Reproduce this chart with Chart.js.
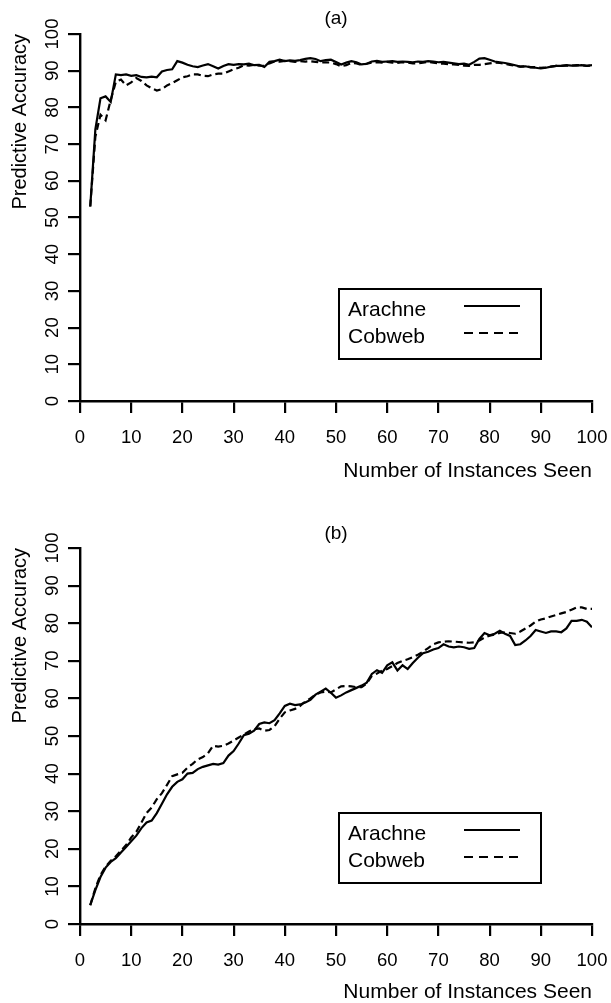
<!DOCTYPE html>
<html>
<head>
<meta charset="utf-8">
<title>Predictive Accuracy</title>
<script src="https://cdn.jsdelivr.net/npm/chart.js@4.4.1/dist/chart.umd.min.js"></script>
<style>
  html, body { margin: 0; padding: 0; background: #fff; }
  body { width: 611px; height: 1003px; position: relative; overflow: hidden; }
  .panel { position: absolute; left: 0; width: 611px; }
  #panelA { top: 0; height: 486px; }
  #panelB { top: 500px; height: 503px; }
</style>
</head>
<body>
<div class="panel" id="panelA"><canvas id="chartA"></canvas></div>
<div class="panel" id="panelB"><canvas id="chartB"></canvas></div>
<script>
// number of instances seen (x)
const instances = [
  2, 3, 4, 5, 6, 7, 8, 9, 10, 11,
  12, 13, 14, 15, 16, 17, 18, 19, 20, 21,
  22, 23, 24, 25, 26, 27, 28, 29, 30, 31,
  32, 33, 34, 35, 36, 37, 38, 39, 40, 41,
  42, 43, 44, 45, 46, 47, 48, 49, 50, 51,
  52, 53, 54, 55, 56, 57, 58, 59, 60, 61,
  62, 63, 64, 65, 66, 67, 68, 69, 70, 71,
  72, 73, 74, 75, 76, 77, 78, 79, 80, 81,
  82, 83, 84, 85, 86, 87, 88, 89, 90, 91,
  92, 93, 94, 95, 96, 97, 98, 99, 100
];

// panel (a)
const arachneA = [
  53, 74, 82.5, 83, 81.5, 89, 88.8, 89, 88.6, 88.8,
  88.3, 88.2, 88.4, 88.2, 89.8, 90.2, 90.4, 92.6, 92.2, 91.6,
  91.2, 91, 91.4, 91.8, 91.2, 90.6, 91.3, 91.8, 91.6, 91.8,
  91.7, 91.9, 91.5, 91.6, 91, 92.4, 92.6, 93, 92.6, 92.8,
  92.7, 92.9, 93.2, 93.4, 93.2, 92.6, 92.9, 93, 92.4, 91.7,
  92.2, 92.6, 92.3, 91.7, 91.9, 92.5, 92.7, 92.4, 92.5, 92.6,
  92.4, 92.5, 92.4, 92.3, 92.5, 92.4, 92.6, 92.5, 92.3, 92.4,
  92.2, 92, 91.8, 91.9, 91.6, 92.4, 93.3, 93.4, 93, 92.5,
  92.3, 92.1, 91.8, 91.5, 91.1, 91.2, 90.9, 90.8, 90.6, 90.8,
  91.1, 91.3, 91.3, 91.5, 91.4, 91.4, 91.5, 91.3, 91.5
];
const cobwebA = [
  53, 72, 78, 76.5, 82, 87, 87.6, 86, 86.8, 88,
  87.2, 86, 85.2, 84.6, 85, 86, 86.6, 87.4, 88.2, 88.5,
  89, 89, 88.6, 88.5, 89, 89.2, 89.2, 89.8, 90.4, 90.8,
  91.5, 91.4, 91.6, 91.4, 91.3, 92, 92.5, 92.5, 92.7, 92.6,
  92.4, 92.6, 92.5, 92.6, 92.4, 92.2, 92.3, 92.2, 91.8, 91.2,
  91.5, 92.1, 92, 91.6, 91.9, 92.2, 92.3, 92.2, 92.4, 92.2,
  92.1, 92.3, 92.2, 92, 92, 92.2, 92.4, 92.2, 92, 91.9,
  91.8, 91.7, 91.6, 91.4, 91.3, 91.6, 91.6, 91.8, 92, 92.2,
  92.1, 91.9, 91.6, 91.3, 91.1, 91.2, 91, 91, 90.8, 90.9,
  91.1, 91.3, 91.3, 91.4, 91.4, 91.5, 91.5, 91.3, 91.4
];

// panel (b)
const arachneB = [
  5, 9, 12.5, 15, 16.5, 17.5, 19, 20.5, 22, 23.5,
  25.5, 27, 27.5, 29.5, 32, 34.5, 36.5, 37.8, 38.5, 40,
  40.2, 41.2, 41.8, 42.2, 42.6, 42.4, 42.8, 44.8, 46, 48,
  50.2, 50.6, 51.4, 53.2, 53.6, 53.4, 54.2, 56, 58, 58.6,
  58.2, 58.4, 58.9, 59.6, 61, 61.8, 62.6, 61.5, 60.2, 60.8,
  61.6, 62.2, 62.8, 63.4, 64.2, 66.5, 67.5, 66.8, 68.8, 69.6,
  67.4, 68.8, 67.8, 69.4, 70.8, 72, 72.4, 73, 73.4, 74.4,
  73.8, 73.6, 73.8, 73.6, 73.2, 73.4, 75.8, 77.4, 76.8, 77.2,
  78, 77.2, 76.6, 74.2, 74.4, 75.4, 76.6, 78.2, 77.8, 77.4,
  77.8, 77.8, 77.6, 78.6, 80.6, 80.6, 80.9, 80.4, 78.9
];
const cobwebB = [
  5, 9.5, 13, 15.3, 16.8, 18, 19.5, 21, 23, 24.5,
  27, 29.5, 31, 33.2, 34.8, 37, 39.3, 39.8, 40.2, 41.6,
  42.6, 43.8, 44.4, 45.4, 47.4, 47.2, 47.4, 48, 48.8, 49.6,
  50.4, 51.2, 51.8, 52, 51.4, 51.6, 52.6, 54.6, 56.3, 56.8,
  57.2, 58, 59.2, 60, 61, 61.6, 61.8, 61.6, 62.4, 63.2,
  63.3, 63.2, 63, 63, 64, 66, 66.6, 67.4, 67.8, 68.6,
  69.4, 70, 70.4, 71, 71.6, 72.4, 73.4, 74.4, 74.9, 75.1,
  75.2, 75.1, 75, 74.9, 74.8, 74.9, 75.4, 76.2, 76.7, 77,
  77.4, 77.6, 77.4, 77.2, 77.8, 78.6, 79.4, 80.4, 81, 81.3,
  81.8, 82.2, 82.6, 83, 83.6, 84.2, 84.2, 83.8, 83.8
];

const xTicks = [0, 10, 20, 30, 40, 50, 60, 70, 80, 90, 100];
const yTicks = [0, 10, 20, 30, 40, 50, 60, 70, 80, 90, 100];

Chart.defaults.font.family = '"Liberation Sans", Arial, Helvetica, sans-serif';
Chart.defaults.color = '#000';

// boxed key: name on the left, line sample on the right
const boxLegend = {
  id: 'boxLegend',
  afterDatasetsDraw(chart, args, opts) {
    const { ctx, chartArea } = chart;
    const left = chartArea.left + 259;
    const top = chartArea.bottom - opts.bottomGap - 70;
    ctx.save();
    ctx.strokeStyle = '#000';
    ctx.lineWidth = 2;
    ctx.strokeRect(left, top, 202, 70);
    ctx.font = '21px "Liberation Sans", Arial, sans-serif';
    ctx.fillStyle = '#000';
    ctx.textBaseline = 'middle';
    chart.data.datasets.forEach((ds, i) => {
      const y = top + 21 + i * 27;
      ctx.fillText(ds.label, left + 9, y);
      ctx.lineWidth = 2.2;
      ctx.setLineDash(i === 0 ? [] : [9, 6]);
      ctx.beginPath();
      ctx.moveTo(left + 125, y - 4);
      ctx.lineTo(left + 181, y - 4);
      ctx.stroke();
    });
    ctx.restore();
  }
};

function pairs(ys) {
  return instances.map((x, i) => ({ x: x, y: ys[i] }));
}

function buildChart(id, title, arachne, cobweb, g) {
  return new Chart(document.getElementById(id), {
    type: 'line',
    data: {
      datasets: [
        { label: 'Arachne', data: pairs(arachne), borderColor: '#000', borderWidth: 2.2,
          pointRadius: 0, tension: 0, fill: false },
        { label: 'Cobweb', data: pairs(cobweb), borderColor: '#000', borderWidth: 2.2,
          borderDash: [7, 4], pointRadius: 0, tension: 0, fill: false }
      ]
    },
    options: {
      responsive: true,
      maintainAspectRatio: false,
      animation: false,
      layout: { padding: { left: 0, right: 19, top: 0, bottom: 0 } },
      plugins: {
        legend: { display: false },
        tooltip: { enabled: false },
        title: {
          display: true, text: title, fullSize: false, color: '#000',
          font: { size: 19, weight: 'normal', lineHeight: 1.2 },
          padding: { top: g.titleTop, bottom: g.titleBottom }
        },
        boxLegend: { bottomGap: g.legendGap }
      },
      scales: {
        x: {
          type: 'linear', min: 0, max: 100,
          afterBuildTicks: s => { s.ticks = xTicks.map(v => ({ value: v })); },
          afterFit: s => { s.height = g.xHeight; s.paddingLeft = 0; s.paddingRight = 0; },
          ticks: { padding: 14, font: { size: 18.5 }, color: '#000', maxRotation: 0, autoSkip: false },
          grid: { drawOnChartArea: false, drawTicks: true, tickLength: 12, color: '#000', lineWidth: 2.2 },
          border: { display: true, color: '#000', width: 2.4 },
          title: {
            display: true, text: 'Number of Instances Seen', align: 'end', color: '#000',
            font: { size: 21, lineHeight: 1 }, padding: { top: 0, bottom: g.xTitleBottom }
          }
        },
        y: {
          min: 0, max: 100,
          afterBuildTicks: s => { s.ticks = yTicks.map(v => ({ value: v })); },
          afterFit: s => { s.width = 80; s.paddingTop = 0; s.paddingBottom = 0; },
          ticks: { minRotation: 90, maxRotation: 90, crossAlign: 'center', padding: 0,
                   font: { size: 18.5 }, color: '#000', autoSkip: false },
          grid: { drawOnChartArea: false, drawTicks: true, tickLength: 12, color: '#000', lineWidth: 2.2 },
          border: { display: true, color: '#000', width: 2.4 },
          title: {
            display: true, text: 'Predictive Accuracy', align: 'end', color: '#000',
            font: { size: 20, lineHeight: 1 }, padding: { top: 10, bottom: 0 }
          }
        }
      }
    },
    plugins: [boxLegend]
  });
}

buildChart('chartA', '(a)', arachneA, cobwebA,
  { titleTop: 7, titleBottom: 4.2, xHeight: 85, xTitleBottom: 4.5, legendGap: 42 });
buildChart('chartB', '(b)', arachneB, cobwebB,
  { titleTop: 22, titleBottom: 3.2, xHeight: 79, xTitleBottom: 0, legendGap: 41 });
</script>
</body>
</html>
